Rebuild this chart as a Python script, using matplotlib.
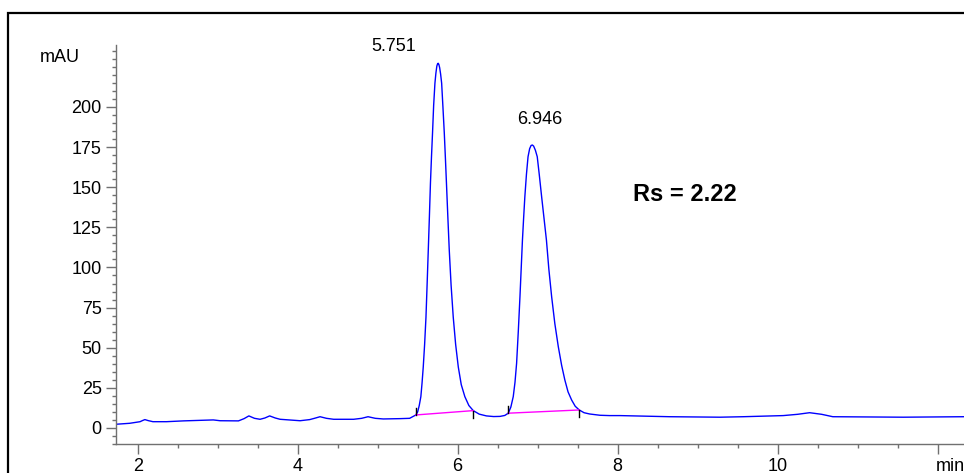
import matplotlib
matplotlib.use("Agg")
from matplotlib import pyplot as plt
from matplotlib.patches import Rectangle
from matplotlib.ticker import MultipleLocator, FixedLocator
import matplotlib.transforms as mtransforms

plt.rcParams['font.family'] = ['Liberation Sans', 'DejaVu Sans']

# trace (min, mAU)
time = [1.73, 1.90, 2.03, 2.06, 2.09, 2.13, 2.19, 2.36, 2.57, 2.945, 3.03, 3.26,
        3.33, 3.39, 3.46, 3.53, 3.59, 3.65, 3.72, 3.78, 4.03, 4.15, 4.21, 4.28,
        4.36, 4.45, 4.70, 4.80, 4.88, 4.97, 5.07, 5.28, 5.40, 5.478,
        5.50, 5.52, 5.54, 5.555, 5.57, 5.587, 5.604, 5.618, 5.633, 5.647, 5.66,
        5.673, 5.686, 5.70, 5.716, 5.728, 5.74, 5.75, 5.757, 5.765, 5.775,
        5.787, 5.80, 5.816, 5.833, 5.847, 5.86, 5.877, 5.895, 5.918, 5.945,
        5.975, 6.008, 6.045, 6.09, 6.14, 6.195, 6.27, 6.36, 6.45, 6.53, 6.59,
        6.633, 6.665, 6.695, 6.717, 6.737, 6.758, 6.779, 6.795, 6.81, 6.825,
        6.84, 6.86, 6.88, 6.90, 6.918, 6.934, 6.95, 6.972, 6.995, 7.02, 7.05,
        7.08, 7.11, 7.14, 7.175, 7.215, 7.258, 7.30, 7.34, 7.38, 7.425, 7.47,
        7.52, 7.58, 7.65, 7.78, 7.90, 8.03, 8.65, 9.28, 9.57, 10.07, 10.25,
        10.40, 10.55, 10.69, 11.57, 12.33]
signal = [2.3, 2.9, 3.9, 4.6, 5.2, 4.6, 3.9, 3.9, 4.4, 5.0, 4.5, 4.4,
          5.8, 7.5, 6.0, 5.4, 6.2, 7.5, 6.2, 5.4, 4.5, 5.2, 6.0, 7.0,
          6.0, 5.4, 5.4, 6.0, 7.0, 6.0, 5.6, 5.8, 6.0, 8.1,
          10.0, 14.0, 19.5, 28.0, 38.0, 52.0, 69.0, 89.0, 111.0, 132.0, 152.6,
          169.0, 183.8, 201.0, 214.8, 221.0, 225.5, 227.0, 227.2, 226.5, 224.5,
          220.5, 214.8, 200.0, 183.8, 168.0, 152.6, 132.0, 111.0, 89.0, 69.0,
          52.0, 38.0, 27.0, 19.5, 14.0, 10.8, 8.6, 7.5, 7.1, 7.2, 7.8,
          9.2, 13.0, 19.5, 28.5, 40.3, 60.0, 81.8, 100.0, 117.0, 131.0,
          144.0, 158.0, 169.0, 174.0, 176.0, 176.3, 175.6, 173.0, 169.0, 158.0, 144.0,
          130.5, 117.0, 99.0, 81.8, 65.0, 50.7, 39.0, 29.9, 22.5, 17.4, 13.5,
          11.2, 9.5, 8.7, 7.9, 7.7, 7.7, 7.0, 6.7, 7.0, 7.7, 8.5,
          9.5, 8.5, 7.0, 6.7, 7.0]

# integration baselines
peak_start = [5.478, 6.633]
peak_end = [6.195, 7.52]
base_start = [8.1, 9.2]
base_end = [10.8, 11.2]

peak_rt = ["5.751", "6.946"]

fig = plt.figure(figsize=(9.64, 4.73), dpi=100)
ax = fig.add_axes([116 / 964, 29 / 473, 848 / 964, 399 / 473])

# outer frame (runs past the right and bottom edge)
fig.patches.append(Rectangle((8 / 964, -0.2), 1.2, 0.2 + (473 - 13.3) / 473,
                             transform=fig.transFigure, fill=False,
                             edgecolor='black', linewidth=1.6, clip_on=False))

ax.plot(time, signal, color='#0000ff', linewidth=1.0)
for xs, xe, ys, ye in zip(peak_start, peak_end, base_start, base_end):
    ax.plot([xs, xe], [ys, ye], color='#ff00ff', linewidth=1.0)
    ax.plot([xs, xs], [ys, ys + 4.5], color='black', linewidth=1.0)
    ax.plot([xe, xe], [ye - 4.5, ye], color='black', linewidth=1.0)

ax.set_xlim(1.729, 12.33)
ax.set_ylim(-10, 238.6)

for s in ['top', 'right']:
    ax.spines[s].set_visible(False)
for s in ['left', 'bottom']:
    ax.spines[s].set_color('#707070')
    ax.spines[s].set_linewidth(1.0)

ax.xaxis.set_major_locator(FixedLocator([2, 4, 6, 8, 10, 12]))
ax.set_xticklabels(['2', '4', '6', '8', '10', ''])
ax.xaxis.set_minor_locator(MultipleLocator(0.5))
ax.yaxis.set_major_locator(FixedLocator([0, 25, 50, 75, 100, 125, 150, 175, 200]))
ax.yaxis.set_minor_locator(MultipleLocator(5))
ax.tick_params(which='major', length=7.2, width=1.0, color='#707070',
               labelsize=13, pad=3)
ax.tick_params(which='minor', length=3.2, width=1.0, color='#707070')

ax.text(40 / 964, (473 - 57.5) / 473, 'mAU', transform=fig.transFigure,
        fontsize=13, ha='left', va='center')
ax.text(11.98, -10, 'min', fontsize=13, ha='left', va='top',
        transform=ax.transData + mtransforms.ScaledTranslation(0, -14 / 100, fig.dpi_scale_trans))

ax.text(5.204, 237.4, peak_rt[0], fontsize=13, ha='center', va='center')
ax.text(7.025, 191.9, peak_rt[1], fontsize=13, ha='center', va='center')
ax.text(8.84, 145.2, 'Rs = 2.22', fontsize=17, fontweight='bold',
        ha='center', va='center')

fig.savefig('out.png', dpi=100)
